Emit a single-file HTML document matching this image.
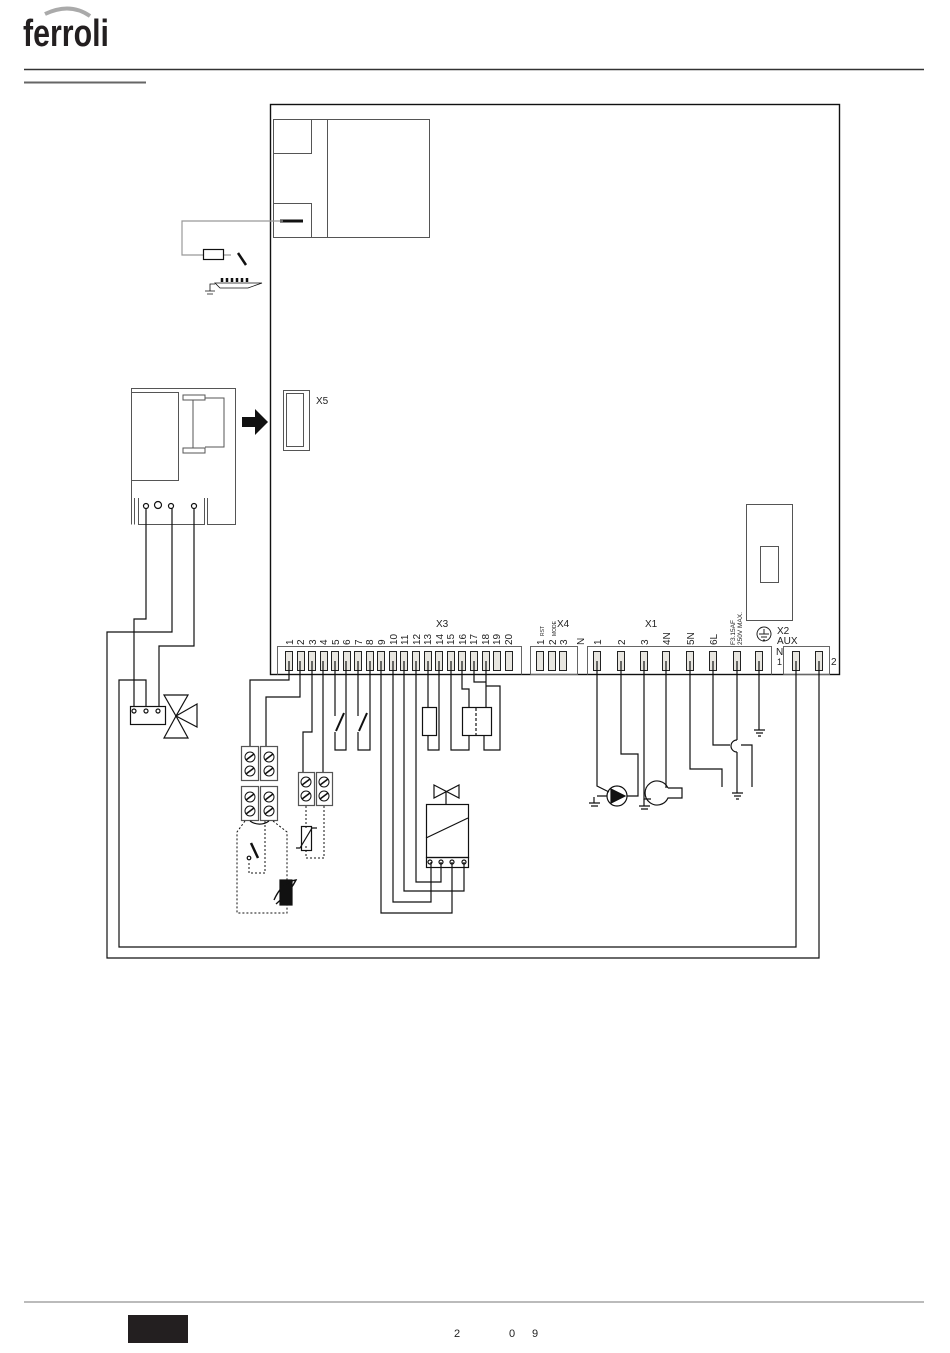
<!DOCTYPE html>
<html><head><meta charset="utf-8"><style>
html,body{margin:0;padding:0;background:#fff;}
svg{display:block}
text{font-family:"Liberation Sans",sans-serif;}
</style></head><body>
<svg width="950" height="1353" viewBox="0 0 950 1353" xmlns="http://www.w3.org/2000/svg">
<!-- header -->
<path d="M45 14 Q70 2 90 16" stroke="#aaa" stroke-width="4" fill="none"/>
<text x="23" y="46" font-size="38" font-weight="bold" fill="#231f20" style="font-family:'Liberation Sans Narrow','Liberation Sans',sans-serif" textLength="86" lengthAdjust="spacingAndGlyphs">ferroli</text>
<line x1="24" y1="69.5" x2="924" y2="69.5" stroke="#333" stroke-width="1.6"/>
<line x1="24" y1="82.5" x2="146" y2="82.5" stroke="#666" stroke-width="2"/>
<!-- footer -->
<line x1="24" y1="1302" x2="924" y2="1302" stroke="#777" stroke-width="1"/>
<rect x="128" y="1315" width="60" height="28" fill="#231f20"/>
<text x="454" y="1337" font-size="11" fill="#222">2</text>
<text x="509" y="1337" font-size="11" fill="#222">0</text>
<text x="532" y="1337" font-size="11" fill="#222">9</text>

<g fill="none" stroke="#111" stroke-width="1.2">
<!-- main board -->
<rect x="270.5" y="104.5" width="569" height="570" stroke-width="1.4"/>
<g stroke="#555" stroke-width="1">
<rect x="273.5" y="119.5" width="156" height="118"/>
<path d="M273.5 153.5 H311.5 V119.5 M311.5 237.5 V203.5 H273.5 M327.5 119.5 V237.5"/>
</g>
<line x1="280" y1="221" x2="303" y2="221" stroke-width="3"/>
<!-- flame sensor -->
<path d="M283 221 H182 V255 H203 M223 255 H231" stroke="#999"/>
<rect x="203.5" y="249.5" width="20" height="10"/>
<line x1="238" y1="253" x2="246" y2="265" stroke-width="2.5"/>
<path d="M215 283 H262 L248 288 H220 Z" stroke-width="0.8"/>
<path d="M222 278 v4 M227 278 v4 M232 278 v4 M237 278 v4 M242 278 v4 M247 278 v4" stroke-width="2.5"/>
<path d="M215 284 H210 V291 M205 291 H215 M207 294 H213" stroke-width="0.8"/>

<!-- left module -->
<g stroke="#555" stroke-width="1">
<path d="M131.5 524.5 V388.5 H235.5 V524.5 H207.5 V498 M204.5 498 V524.5 H138.5 V498 M134.5 498 V524.5"/>
<rect x="131.5" y="392.5" width="47" height="88"/>
<path d="M183 395 H205 V400 H183 Z M183 448 H205 V453 H183 Z M193 400 V448 M205 398 H224 V447 H205"/>
</g>
<circle cx="146" cy="506" r="2.5"/><circle cx="158" cy="505" r="3.5"/><circle cx="171" cy="506" r="2.5"/><circle cx="194" cy="506" r="2.5"/>
<!-- arrow -->
<path d="M242 417 H255 V409 L268 422 L255 435 V427 H242 Z" fill="#111" stroke="none"/>
<!-- X5 -->
<g stroke="#555" stroke-width="1"><rect x="283.5" y="390.5" width="26" height="60"/><rect x="286.5" y="393.5" width="17" height="53"/></g>
<text x="316" y="404" font-size="10" fill="#222" stroke="none">X5</text>

<!-- upper right module -->
<g stroke="#555" stroke-width="1"><rect x="746.5" y="504.5" width="46" height="116"/><rect x="760.5" y="546.5" width="18" height="36"/></g>

<!-- terminal strips -->
<g stroke="#666" stroke-width="1">
<path d="M277.5 674.5 V646.5 H521.5 V674.5"/>
<path d="M530.5 674.5 V646.5 H577.5 V674.5 H530.5"/>
<path d="M587.5 674.5 V646.5 H771.5 V674.5"/>
<path d="M783.5 674.5 V646.5 H829.5 V674.5 H783.5"/>
</g>
</g>

<g fill="#e8e6e0" stroke="#222" stroke-width="1">
<rect x="285.5" y="651.5" width="7" height="19"/><rect x="297.5" y="651.5" width="7" height="19"/><rect x="308.5" y="651.5" width="7" height="19"/><rect x="320.5" y="651.5" width="7" height="19"/><rect x="331.5" y="651.5" width="7" height="19"/><rect x="343.5" y="651.5" width="7" height="19"/><rect x="354.5" y="651.5" width="7" height="19"/><rect x="366.5" y="651.5" width="7" height="19"/><rect x="377.5" y="651.5" width="7" height="19"/><rect x="389.5" y="651.5" width="7" height="19"/><rect x="400.5" y="651.5" width="7" height="19"/><rect x="412.5" y="651.5" width="7" height="19"/><rect x="424.5" y="651.5" width="7" height="19"/><rect x="435.5" y="651.5" width="7" height="19"/><rect x="447.5" y="651.5" width="7" height="19"/><rect x="458.5" y="651.5" width="7" height="19"/><rect x="470.5" y="651.5" width="7" height="19"/><rect x="482.5" y="651.5" width="7" height="19"/><rect x="493.5" y="651.5" width="7" height="19"/><rect x="505.5" y="651.5" width="7" height="19"/>
<rect x="536.5" y="651.5" width="7" height="19"/><rect x="548.5" y="651.5" width="7" height="19"/><rect x="559.5" y="651.5" width="7" height="19"/>
<rect x="593.5" y="651.5" width="7" height="19"/><rect x="617.5" y="651.5" width="7" height="19"/><rect x="640.5" y="651.5" width="7" height="19"/><rect x="662.5" y="651.5" width="7" height="19"/><rect x="686.5" y="651.5" width="7" height="19"/><rect x="709.5" y="651.5" width="7" height="19"/><rect x="733.5" y="651.5" width="7" height="19"/><rect x="755.5" y="651.5" width="7" height="19"/>
<rect x="792.5" y="651.5" width="7" height="19"/><rect x="815.5" y="651.5" width="7" height="19"/>
</g>

<!-- labels -->
<g font-size="10" fill="#222">
<text x="436" y="627">X3</text>
<text x="557" y="627">X4</text>
<text x="645" y="627">X1</text>
<text x="777" y="634">X2</text>
<text x="777" y="644">AUX</text>
<text x="776" y="655">N</text>
<text x="777" y="665" font-size="9">1</text>
<text x="831" y="665">2</text>
<g transform="rotate(-90)">
<text x="-645" y="293">1</text><text x="-645" y="304">2</text><text x="-645" y="316">3</text><text x="-645" y="327">4</text><text x="-645" y="339">5</text><text x="-645" y="350">6</text><text x="-645" y="362">7</text><text x="-645" y="373">8</text><text x="-645" y="385">9</text><text x="-645" y="397">10</text><text x="-645" y="408">11</text><text x="-645" y="420">12</text><text x="-645" y="431">13</text><text x="-645" y="443">14</text><text x="-645" y="454">15</text><text x="-645" y="466">16</text><text x="-645" y="477">17</text><text x="-645" y="489">18</text><text x="-645" y="500">19</text><text x="-645" y="512">20</text>
<text x="-645" y="544">1</text><text x="-645" y="556">2</text><text x="-645" y="567">3</text>
<text x="-636" y="544" font-size="5">RST</text><text x="-636" y="556" font-size="5">MODE</text>
<text x="-645" y="584">N</text>
<text x="-645" y="601">1</text><text x="-645" y="625">2</text><text x="-645" y="648">3</text><text x="-645" y="670">4N</text><text x="-645" y="694">5N</text><text x="-645" y="717">6L</text>
<text x="-645" y="735" font-size="6.5">F3.15AF</text><text x="-645" y="742" font-size="6.5">250V MAX.</text>
</g>
</g>
<g fill="none" stroke="#222" stroke-width="1">
<circle cx="764" cy="634" r="7"/><path d="M764 629 V634 M759 634 H769 M761 637 H767 M763 640 H765"/>
</g>

<!-- wiring -->
<g fill="none" stroke="#111" stroke-width="1.2">
<path d="M289 661 V680 H250 V746 M300 661 V697 H266 V746"/>
<path d="M312 661 V732 H303 V772 M323 661 V772"/>
<path d="M335 661 V716 M346 661 V750 H335 V732 M358 661 V716 M370 661 V750 H358 V732"/>
<path d="M336 731 L344 713 M359 731 L367 713" stroke-width="2"/>
<path d="M381 661 V913 H452 V862 M393 661 V902 H431 V862 M404 661 V891 H464 V862 M416 661 V882 H441 V862"/>
<path d="M428 661 V707 M439 661 V750 H428 V735"/>
<rect x="422.5" y="707.5" width="14" height="28"/>
<path d="M451 661 V750 H469 V735 M462 661 V689 H469 V707 M474 661 V682 H486 V707 M486 661 V686 H500 V750 H484 V735"/>
<rect x="462.5" y="707.5" width="29" height="28"/>
<path d="M476 708 V735" stroke-dasharray="3,2"/>
<!-- gas valve -->
<rect x="426.5" y="804.5" width="42" height="53"/>
<path d="M426 838 L468 818"/>
<rect x="426.5" y="857.5" width="42" height="10"/>
<circle cx="430" cy="862" r="2"/><circle cx="441" cy="862" r="2"/><circle cx="452" cy="862" r="2"/><circle cx="464" cy="862" r="2"/>
<path d="M434 785 L459 798 V785 L434 798 Z M446 791 V804"/>
<!-- X1 wiring -->
<path d="M597 661 V786 L609 792 M621 661 V754 H638 V796 H627 M644 661 V799 H651 M666 661 V788 M690 661 V769 H722 V787 M713 661 V745 H730 M741 745 H752 V787 M737 661 V740 M737 752 V793 M759 661 V730"/>
<path d="M737 740 A6 6 0 0 0 737 752"/>
<circle cx="617" cy="796" r="10"/>
<path d="M611 789 L625 796 L611 803 Z" fill="#111"/>
<path d="M597 796 H607 M594 797 V803 M589 803 H600 M591 806 H598"/>
<path d="M668 788 H682 V798 H668 A12 12 0 1 1 668 788"/>
<path d="M644 799 V806 M639 806 H650 M641 809 H648"/>
<path d="M732 793 H743 M734 796 H741 M736 799 H739 M754 730 H765 M756 733 H763 M758 736 H761"/>
<!-- X2 loops -->
<path d="M796 661 V947 H119 V680 H146 V707 M819 661 V958 H107 V632 H172 V508"/>
<path d="M146 508 V619 H134 V707 M194 508 V646 H159 V707"/>
<rect x="130.5" y="706.5" width="35" height="18"/>
<circle cx="134" cy="711" r="2"/><circle cx="146" cy="711" r="2"/><circle cx="158" cy="711" r="2"/>
<path d="M164 695 H188 L176 716 Z M176 716 L164 738 H188 Z M176 716 L197 704 V727 Z"/>
<!-- terminal blocks -->
<g stroke="#555" stroke-width="1.2">
<rect x="241.5" y="746.5" width="17" height="34"/><rect x="260.5" y="746.5" width="17" height="34"/>
<rect x="241.5" y="786.5" width="17" height="34"/><rect x="260.5" y="786.5" width="17" height="34"/>
<rect x="298.5" y="772.5" width="16" height="33"/><rect x="316.5" y="772.5" width="16" height="33"/>
</g>
<g stroke-width="1">
<circle cx="250" cy="757" r="5"/><circle cx="250" cy="771" r="5"/><circle cx="269" cy="757" r="5"/><circle cx="269" cy="771" r="5"/>
<circle cx="250" cy="797" r="5"/><circle cx="250" cy="811" r="5"/><circle cx="269" cy="797" r="5"/><circle cx="269" cy="811" r="5"/>
<circle cx="306" cy="782" r="5"/><circle cx="306" cy="796" r="5"/><circle cx="324" cy="782" r="5"/><circle cx="324" cy="796" r="5"/>
<path d="M246 760 L254 754 M246 774 L254 768 M265 760 L273 754 M265 774 L273 768 M246 800 L254 794 M246 814 L254 808 M265 800 L273 794 M265 814 L273 808 M302 785 L310 779 M302 799 L310 793 M320 785 L328 779 M320 799 L328 793" stroke-width="1.6"/>
</g>
<path d="M250 821 A16 16 0 0 0 269 821"/>
<path d="M306 806 V830 M324 806 V858 H306 V845" stroke-dasharray="2,2" stroke-width="1"/>
<rect x="301.5" y="826.5" width="10" height="24"/>
<path d="M296 848 H300 L312 828 H317"/>
<path d="M245 821 L237 832 V913 H287 V904 M273 821 L287 832 V882 M265 821 V873 H249 V863" stroke-dasharray="2,2" stroke-width="1"/>
<path d="M251 843 L258 858" stroke-width="2.5"/>
<circle cx="249" cy="858" r="1.8"/>
<rect x="280" y="880" width="12" height="25" fill="#111"/>
<path d="M274 900 Q282 882 296 880 Q290 892 276 904" stroke-width="1.4"/>
</g>
</svg>
</body></html>
